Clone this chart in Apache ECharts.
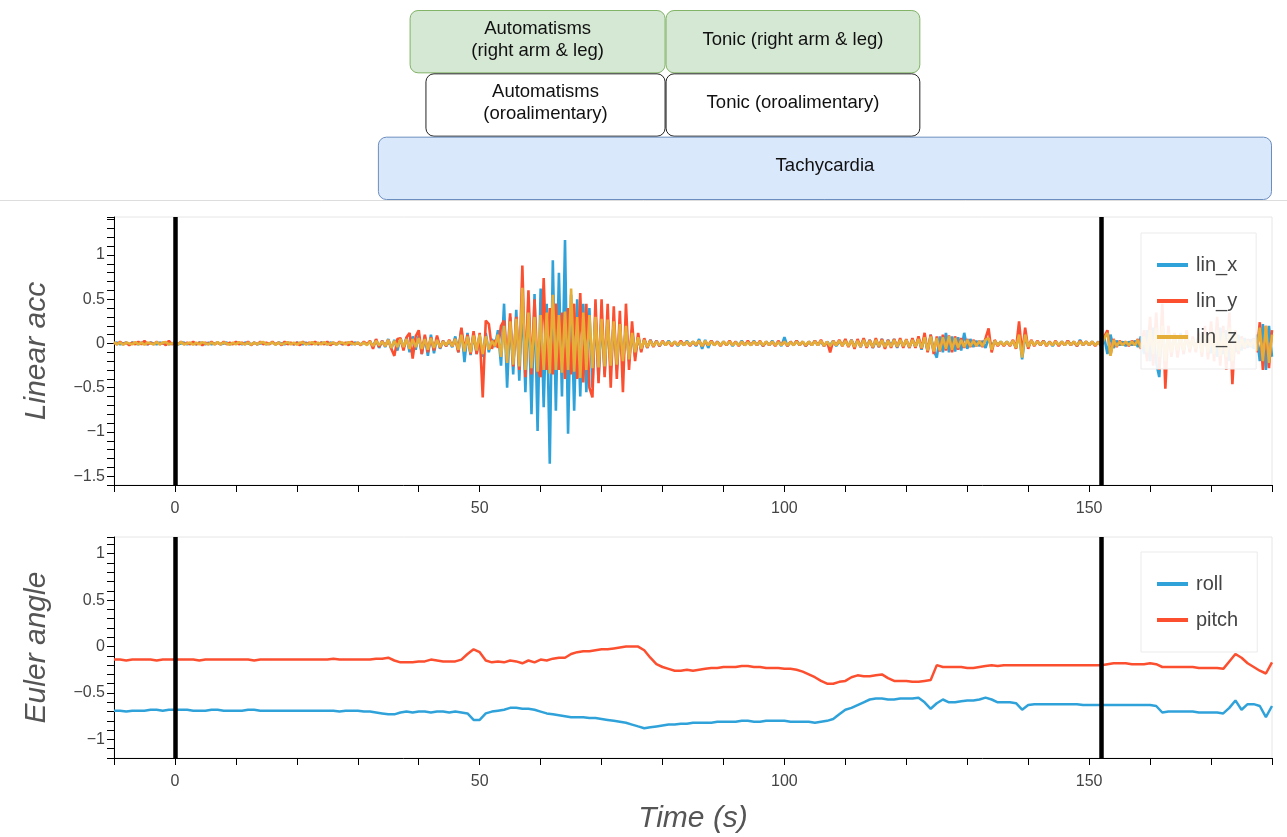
<!DOCTYPE html>
<html lang="en">
<head>
<meta charset="UTF-8">
<title>Linear acc / Euler angle</title>
<script src="https://cdn.jsdelivr.net/npm/echarts@6/dist/echarts.min.js"></script>
<style>
  html, body { margin: 0; padding: 0; background: #fff; }
  #chart { width: 1287px; height: 837px; }
</style>
</head>
<body>
<div id="chart"></div>
<script>
// ---- data ----
// annotation boxes (time in s)
var annoLabels = ['Automatisms\n(right arm & leg)', 'Tonic (right arm & leg)',
                  'Automatisms\n(oroalimentary)', 'Tonic (oroalimentary)', 'Tachycardia'];
var annoStart = [38.5, 80.5, 41.1, 80.5, 33.3];
var annoEnd   = [80.5, 122.3, 80.5, 122.3, 180];
var annoRow   = [0, 0, 1, 1, 2];

// vertical event markers
var eventTimes = [0, 152];

// linear acceleration, one sample every 0.5 s from -10 s
var ACC_T0 = -10, ACC_DT = 0.5;
var linX = [
  0, 0.01, -0.01, 0, 0.01, -0.01, 0.01, 0, -0.01, 0.01, 0, -0.01, 0.01, 0, -0.01, 0.01, 0, 0.01, -0.01, 0,
  0.01, -0.01, 0, 0.01, -0.01, 0, 0.01, -0.01, 0.01, 0, -0.01, 0.01, -0.01, 0, 0.01, -0.01, 0, 0.01, -0.01, 0,
  0, 0.01, -0.01, 0.01, 0, -0.01, 0.01, -0.01, 0, 0.01, -0.01, 0, 0.01, -0.01, 0.01, 0, -0.01, 0.01, 0, -0.01,
  0.01, 0, -0.01, 0.01, -0.01, 0, 0.01, -0.01, 0.01, 0, -0.01, 0.01, 0, -0.01, 0.01, -0.01, 0, 0.01, -0.01, 0.01,
  0, -0.01, 0.01, -0.01, 0.02, -0.03, 0.04, -0.05, 0.03, -0.04, 0.05, -0.06, 0.04, -0.08, 0.06, -0.05, 0.07, -0.1, 0.08, -0.07,
  0.09, -0.12, 0.08, -0.14, 0.1, -0.11, 0.07, -0.06, 0.03, -0.03, 0.02, -0.04, 0.08, -0.1, 0.17, -0.21, 0.12, -0.13, 0.1, -0.12,
  0.09, -0.15, 0.12, -0.1, 0.05, -0.04, 0.15, -0.25, 0.45, -0.5, 0.3, -0.35, 0.38, -0.42, 0.5, -0.55, 0.48, -0.8, 0.56, -0.99,
  0.62, -0.72, 0.45, -1.36, 0.94, -0.76, 0.8, -0.6, 1.17, -1.02, 0.55, -0.76, 0.5, -0.6, 0.45, -0.55, 0.4, -0.5, 0.35, -0.42,
  0.3, -0.35, 0.28, -0.3, 0.25, -0.3, 0.22, -0.25, 0.2, -0.2, 0.15, -0.15, 0.08, -0.08, 0.05, -0.05, 0.04, -0.03, 0.03, -0.03,
  0.02, -0.02, 0.03, -0.02, 0.02, -0.03, 0.02, -0.02, 0.03, -0.02, 0.02, -0.03, 0.05, -0.06, 0.04, -0.05, 0.03, -0.02, 0.02, -0.02,
  0.02, -0.02, 0.02, -0.03, 0.02, -0.02, 0.03, -0.02, 0.02, -0.02, 0.03, -0.02, 0.02, -0.03, 0.02, -0.02, 0.03, -0.02, 0.02, -0.03,
  0.07, -0.03, 0.02, -0.02, 0.03, -0.02, 0.02, -0.03, 0.02, -0.02, 0.03, -0.02, 0.02, -0.03, 0.02, -0.02, 0.03, -0.03, 0.02, -0.02,
  0.03, -0.03, 0.04, -0.03, 0.03, -0.04, 0.05, -0.04, 0.04, -0.05, 0.03, -0.04, 0.05, -0.04, 0.04, -0.03, 0.05, -0.05, 0.04, -0.03,
  0.04, -0.05, 0.05, -0.04, 0.06, -0.07, 0.08, -0.09, 0.1, -0.08, -0.16, 0.08, -0.1, 0.12, -0.1, 0.08, -0.09, 0.07, -0.08, 0.12,
  -0.06, 0.05, -0.04, 0.03, -0.03, 0.03, -0.05, 0.06, -0.04, 0.03, -0.02, 0.02, -0.02, 0.02, -0.02, 0.03, -0.05, 0.12, -0.18, 0.08,
  -0.04, 0.03, -0.02, 0.02, -0.02, 0.03, -0.02, 0.02, -0.03, 0.02, -0.02, 0.02, -0.02, 0.03, -0.02, 0.02, -0.03, 0.04, -0.02, 0.02,
  -0.02, 0.02, -0.02, 0.02, -0.03, 0.06, -0.12, 0.1, -0.05, 0.03, -0.02, 0.02, -0.03, 0.02, -0.02, 0.03, -0.04, 0.08, -0.12, 0.15,
  -0.2, 0.18, -0.22, -0.38, 0.25, -0.2, 0.15, -0.12, 0.1, -0.1, 0.12, -0.12, 0.1, -0.08, 0.06, -0.05, 0.08, -0.1, 0.12, -0.1,
  -0.1, 0.12, -0.15, 0.18, -0.12, 0.15, -0.2, 0.12, -0.1, 0.1, -0.08, 0.06, -0.05, 0.05, -0.06, 0.1, -0.2, 0.22, -0.3, 0.2,
  -0.15
];
var linY = [
  0.01, -0.01, 0.02, -0.01, 0.01, -0.02, 0.01, -0.01, 0.02, -0.01, 0.03, -0.01, 0.01, -0.01, 0.02, -0.01, 0.01, -0.02, 0.03, -0.01,
  0.01, -0.01, 0.02, -0.01, 0.01, -0.01, 0.02, -0.01, 0.01, -0.02, 0.01, -0.01, 0.02, -0.01, 0.01, -0.01, 0.02, -0.01, 0.01, -0.01,
  0.02, -0.01, 0.01, -0.01, 0.02, -0.02, 0.01, -0.01, 0.02, -0.01, 0.01, -0.01, 0.02, -0.01, 0.01, -0.02, 0.02, -0.01, 0.01, -0.01,
  0.01, -0.02, 0.02, -0.01, 0.01, -0.01, 0.02, -0.01, 0.01, -0.01, 0.02, -0.02, 0.01, -0.01, 0.02, -0.01, 0.01, -0.02, 0.02, -0.01,
  0.01, -0.02, 0.02, -0.01, 0.03, -0.06, 0.05, -0.04, 0.03, -0.03, 0.04, -0.06, -0.14, 0.05, 0.06, -0.08, 0.07, 0.12, -0.17, 0.08,
  0.15, -0.12, 0.1, -0.1, 0.07, -0.08, 0.09, -0.05, 0.03, -0.03, 0.04, -0.03, 0.05, -0.1, 0.18, -0.08, 0.1, -0.12, 0.14, -0.12,
  0.12, -0.61, 0.26, 0.22, -0.06, 0.04, -0.05, 0.2, 0.26, -0.2, 0.34, -0.26, 0.3, -0.3, 0.88, -0.38, 0.6, -0.35, 0.5, -0.3,
  -0.38, 0.74, -0.3, 0.4, -0.35, 0.45, -0.3, 0.35, -0.4, 0.4, -0.35, 0.45, -0.4, 0.57, -0.44, 0.45, -0.5, -0.61, 0.5, -0.45,
  0.5, -0.38, 0.45, -0.5, 0.42, -0.4, 0.37, -0.55, 0.45, -0.3, 0.25, -0.2, 0.12, -0.1, 0.06, -0.05, 0.04, -0.04, 0.03, -0.03,
  0.03, -0.02, 0.02, -0.03, 0.02, -0.02, 0.03, -0.02, 0.02, -0.03, 0.02, -0.02, 0.03, -0.03, 0.02, -0.02, 0.03, -0.02, 0.02, -0.03,
  0.02, -0.02, 0.03, -0.02, 0.02, -0.03, 0.02, -0.02, 0.03, -0.02, 0.02, -0.02, 0.03, -0.03, 0.02, -0.02, 0.02, -0.03, 0.03, -0.02,
  0.02, -0.03, 0.02, -0.02, 0.03, -0.02, 0.02, -0.03, 0.02, -0.02, 0.03, -0.02, 0.04, -0.03, 0.02, -0.1, 0.03, -0.02, 0.04, -0.03,
  0.05, -0.04, 0.04, -0.06, 0.05, -0.04, 0.06, -0.05, 0.04, -0.05, 0.06, -0.04, 0.05, -0.06, 0.04, -0.05, 0.05, -0.04, 0.06, -0.05,
  0.05, -0.05, 0.06, -0.05, 0.08, -0.06, 0.12, -0.1, 0.1, -0.12, 0.08, -0.09, 0.1, -0.08, 0.09, -0.1, 0.08, -0.07, 0.06, -0.05,
  0.05, -0.04, 0.04, -0.03, 0.03, -0.04, 0.06, 0.17, -0.1, 0.04, -0.03, 0.02, -0.03, 0.02, -0.03, 0.04, -0.06, 0.25, -0.12, 0.18,
  -0.06, 0.04, -0.03, 0.03, -0.02, 0.03, -0.03, 0.02, -0.02, 0.03, -0.03, 0.02, -0.02, 0.03, -0.02, 0.02, -0.03, 0.03, -0.02, 0.02,
  -0.02, 0.02, -0.03, 0.02, -0.03, 0.08, 0.15, -0.13, 0.05, -0.04, 0.03, -0.02, 0.02, -0.03, 0.03, -0.02, 0.05, -0.06, 0.15, -0.2,
  0.3, -0.25, 0.35, -0.3, 0.45, -0.51, 0.2, -0.15, 0.12, -0.16, 0.1, -0.12, 0.15, -0.1, 0.08, -0.1, 0.12, -0.15, 0.2, -0.18,
  0.25, -0.2, 0.3, -0.25, 0.2, -0.3, 0.35, -0.46, 0.15, -0.12, 0.08, -0.06, 0.05, -0.04, 0.06, -0.1, 0.24, -0.3, 0.2, -0.28,
  0.15
];
var linZ = [
  0.015, -0.01, 0.01, -0.015, 0.01, 0, -0.01, 0.015, -0.01, 0.01, -0.015, 0.01, 0, -0.01, 0.015, -0.01, 0.01, 0.015, -0.01, 0,
  0.01, -0.01, 0.015, -0.01, 0, 0.01, -0.015, 0.01, -0.01, 0.015, 0, -0.01, 0.01, -0.01, 0.015, -0.01, 0.01, 0, -0.015, 0.01,
  -0.01, 0.015, 0, -0.01, 0.01, -0.015, 0.01, -0.01, 0.01, 0.015, -0.01, 0, 0.01, -0.015, 0.01, -0.01, 0, 0.015, -0.01, 0.01,
  -0.015, 0.01, 0.01, -0.01, 0, 0.015, -0.01, 0.01, -0.01, 0.015, -0.01, 0, 0.01, -0.015, 0.01, 0.01, -0.01, 0.015, 0, -0.01,
  0.01, -0.015, 0.01, -0.02, 0.02, -0.03, 0.03, -0.02, 0.02, -0.03, 0.04, -0.05, 0.03, -0.04, 0.05, -0.04, 0.05, -0.06, 0.05, -0.04,
  0.06, -0.06, 0.05, -0.07, 0.06, -0.05, 0.04, -0.04, 0.02, -0.02, 0.03, -0.03, 0.05, -0.07, 0.1, -0.09, 0.08, -0.1, 0.09, -0.08,
  0.1, -0.12, 0.08, -0.07, 0.03, -0.03, 0.1, -0.15, 0.2, -0.22, 0.25, -0.24, 0.28, -0.26, 0.63, -0.3, 0.35, -0.28, 0.3, -0.32,
  0.32, -0.3, 0.35, -0.34, 0.55, -0.3, 0.32, -0.33, 0.36, -0.3, 0.62, -0.32, 0.3, -0.39, 0.35, -0.3, 0.32, -0.28, 0.3, -0.27,
  0.28, -0.26, 0.27, -0.25, 0.25, -0.24, 0.22, -0.2, 0.2, -0.18, 0.12, -0.1, 0.07, -0.06, 0.04, -0.04, 0.03, -0.03, 0.02, -0.02,
  0.02, -0.02, 0.02, -0.015, 0.02, -0.02, 0.015, -0.02, 0.02, -0.02, 0.02, -0.015, 0.03, -0.03, 0.03, -0.02, 0.02, -0.02, 0.015, -0.02,
  0.02, -0.015, 0.02, -0.02, 0.015, -0.02, 0.02, -0.02, 0.015, -0.02, 0.02, -0.015, 0.02, -0.02, 0.02, -0.015, 0.02, -0.02, 0.015, -0.02,
  0.02, -0.02, 0.015, -0.02, 0.02, -0.015, 0.02, -0.02, 0.02, -0.02, 0.025, -0.02, 0.03, -0.025, 0.02, -0.03, 0.025, -0.02, 0.03, -0.025,
  0.03, -0.03, 0.035, -0.04, 0.03, -0.035, 0.04, -0.035, 0.03, -0.04, 0.04, -0.03, 0.035, -0.04, 0.03, -0.035, 0.04, -0.035, 0.04, -0.03,
  0.04, -0.04, 0.04, -0.035, 0.05, -0.05, 0.07, -0.08, 0.08, -0.09, 0.06, -0.08, 0.07, -0.06, 0.08, -0.07, 0.06, -0.05, 0.04, -0.04,
  0.04, -0.03, 0.03, -0.025, 0.025, -0.03, 0.04, 0.06, -0.07, 0.03, -0.02, 0.02, -0.02, 0.02, -0.02, 0.03, -0.05, 0.1, -0.16, 0.1,
  -0.04, 0.03, -0.02, 0.02, -0.015, 0.02, -0.02, 0.015, -0.02, 0.02, -0.015, 0.02, -0.02, 0.02, -0.015, 0.02, -0.02, 0.02, -0.015, 0.02,
  -0.015, 0.02, -0.02, 0.015, -0.02, 0.06, 0.12, -0.14, 0.04, -0.03, 0.02, -0.02, 0.02, -0.02, 0.02, -0.02, 0.04, -0.05, 0.08, -0.1,
  0.15, -0.12, 0.18, -0.15, 0.2, -0.2, 0.12, -0.1, 0.08, -0.08, 0.07, -0.08, 0.08, -0.06, 0.05, -0.06, 0.08, -0.1, 0.1, -0.1,
  0.12, -0.12, 0.15, -0.14, 0.12, -0.15, 0.18, -0.2, 0.1, -0.08, 0.05, -0.04, 0.03, -0.03, 0.04, -0.08, 0.18, -0.2, 0.2, -0.22,
  0.1
];

// euler angles, one sample every 1 s from -10 s
var EUL_T0 = -10, EUL_DT = 1;
var roll = [
  -0.69, -0.69, -0.70, -0.69, -0.69, -0.69, -0.68, -0.68, -0.69, -0.68,
  -0.68, -0.68, -0.68, -0.69, -0.69, -0.69, -0.68, -0.68, -0.69, -0.69,
  -0.69, -0.69, -0.68, -0.68, -0.69, -0.69, -0.69, -0.69, -0.69, -0.69,
  -0.69, -0.69, -0.69, -0.69, -0.69, -0.69, -0.69, -0.70, -0.69, -0.69,
  -0.69, -0.70, -0.70, -0.71, -0.72, -0.73, -0.73, -0.71, -0.70, -0.71,
  -0.70, -0.70, -0.71, -0.70, -0.70, -0.71, -0.70, -0.71, -0.72, -0.79,
  -0.79, -0.72, -0.70, -0.69, -0.68, -0.66, -0.66, -0.67, -0.67, -0.68,
  -0.70, -0.72, -0.73, -0.74, -0.75, -0.76, -0.76, -0.76, -0.77, -0.77,
  -0.78, -0.79, -0.80, -0.81, -0.82, -0.84, -0.86, -0.88, -0.87, -0.86,
  -0.85, -0.84, -0.84, -0.83, -0.83, -0.82, -0.82, -0.82, -0.82, -0.81,
  -0.81, -0.81, -0.81, -0.80, -0.80, -0.81, -0.81, -0.80, -0.80, -0.80,
  -0.80, -0.81, -0.81, -0.81, -0.81, -0.82, -0.81, -0.80, -0.78, -0.73,
  -0.68, -0.66, -0.63, -0.60, -0.57, -0.56, -0.56, -0.57, -0.57, -0.56,
  -0.56, -0.56, -0.55, -0.60, -0.67, -0.61, -0.57, -0.60, -0.60, -0.59,
  -0.58, -0.58, -0.57, -0.55, -0.57, -0.60, -0.60, -0.60, -0.61, -0.68,
  -0.63, -0.62, -0.62, -0.62, -0.62, -0.62, -0.62, -0.62, -0.62, -0.63,
  -0.63, -0.63, -0.63, -0.63, -0.63, -0.63, -0.63, -0.63, -0.63, -0.63,
  -0.63, -0.64, -0.71, -0.70, -0.70, -0.70, -0.70, -0.70, -0.71, -0.71,
  -0.71, -0.71, -0.72, -0.66, -0.58, -0.68, -0.62, -0.62, -0.64, -0.76,
  -0.64
];
var pitch = [
  -0.14, -0.14, -0.15, -0.14, -0.14, -0.14, -0.14, -0.15, -0.14, -0.14,
  -0.14, -0.14, -0.14, -0.14, -0.15, -0.14, -0.14, -0.14, -0.14, -0.14,
  -0.14, -0.14, -0.14, -0.15, -0.14, -0.14, -0.14, -0.14, -0.14, -0.14,
  -0.14, -0.14, -0.14, -0.14, -0.14, -0.14, -0.13, -0.14, -0.14, -0.14,
  -0.14, -0.14, -0.14, -0.13, -0.13, -0.12, -0.15, -0.17, -0.17, -0.17,
  -0.16, -0.16, -0.14, -0.15, -0.16, -0.16, -0.16, -0.14, -0.08, -0.03,
  -0.06, -0.15, -0.17, -0.16, -0.17, -0.15, -0.16, -0.18, -0.15, -0.17,
  -0.14, -0.15, -0.13, -0.12, -0.12, -0.08, -0.06, -0.05, -0.05, -0.04,
  -0.03, -0.03, -0.02, -0.01, 0.00, 0.00, 0.00, -0.04, -0.12, -0.19,
  -0.22, -0.24, -0.26, -0.26, -0.25, -0.26, -0.25, -0.24, -0.23, -0.23,
  -0.22, -0.22, -0.22, -0.21, -0.21, -0.22, -0.22, -0.23, -0.23, -0.23,
  -0.24, -0.24, -0.25, -0.27, -0.30, -0.33, -0.37, -0.40, -0.40, -0.38,
  -0.37, -0.33, -0.31, -0.32, -0.32, -0.31, -0.30, -0.34, -0.37, -0.37,
  -0.37, -0.38, -0.38, -0.37, -0.36, -0.20, -0.22, -0.22, -0.22, -0.22,
  -0.23, -0.23, -0.22, -0.21, -0.20, -0.21, -0.20, -0.20, -0.20, -0.20,
  -0.20, -0.20, -0.20, -0.20, -0.20, -0.20, -0.20, -0.20, -0.20, -0.20,
  -0.20, -0.20, -0.20, -0.19, -0.18, -0.18, -0.18, -0.19, -0.19, -0.19,
  -0.18, -0.19, -0.22, -0.22, -0.22, -0.22, -0.22, -0.22, -0.23, -0.23,
  -0.23, -0.23, -0.24, -0.16, -0.08, -0.12, -0.18, -0.22, -0.26, -0.29,
  -0.17
];

// ---- styling ----
var FONT = "'Liberation Sans', Arial, sans-serif";
var C_BLUE = '#30a2da', C_RED = '#fc4f30', C_YELLOW = '#e5ae38';
var rowStyle = [
  { fill: '#d5e8d4', stroke: '#82b366' },
  { fill: '#ffffff', stroke: '#222222' },
  { fill: '#dae8fc', stroke: '#6c8ebf' }
];

function withTime(values, t0, dt) {
  return values.map(function (v, i) { return [t0 + i * dt, v]; });
}

function halfLabel(v) {
  var k = Math.round(v * 2);
  if (Math.abs(v * 2 - k) > 1e-6) return '';
  return String(k / 2).replace('-', '\u2212');
}

var titleStyle = { fontSize: 30, fontStyle: 'italic', color: '#555', fontFamily: FONT };

function timeAxis(gridIndex, title) {
  return {
    type: 'value', gridIndex: gridIndex, min: -10, max: 180, interval: 10,
    axisLine: { show: true, onZero: false, lineStyle: { color: '#000', width: 1 } },
    axisTick: { show: true, length: 7, lineStyle: { color: '#000', width: 1 } },
    axisLabel: {
      color: '#444', fontSize: 16, fontFamily: FONT, margin: 16,
      formatter: function (v) { return Math.abs(v % 50) < 1e-6 ? String(v) : ''; }
    },
    splitLine: { show: false },
    name: title || '', nameLocation: 'middle', nameGap: 46,
    nameTextStyle: titleStyle
  };
}

function valueAxis(gridIndex, min, max, title) {
  return {
    type: 'value', gridIndex: gridIndex, min: min, max: max, interval: 0.1,
    axisLine: { show: true, onZero: false, lineStyle: { color: '#000', width: 1 } },
    axisTick: { show: true, length: 7, lineStyle: { color: '#000', width: 1 } },
    axisLabel: { color: '#444', fontSize: 16, fontFamily: FONT, margin: 9, formatter: halfLabel },
    splitLine: { show: false },
    name: title, nameLocation: 'middle', nameGap: 62,
    nameTextStyle: titleStyle
  };
}

function lineSeries(name, color, data, xi, width) {
  return {
    name: name, type: 'line', xAxisIndex: xi, yAxisIndex: xi,
    data: data, symbol: 'none', showSymbol: false, sampling: false,
    lineStyle: { color: color, width: width }, itemStyle: { color: color },
    emphasis: { disabled: true }, animation: false
  };
}

function eventMarks() {
  return {
    silent: true, symbol: 'none', animation: false,
    label: { show: false },
    lineStyle: { color: '#000', width: 4.5, type: 'solid', opacity: 1 },
    emphasis: { disabled: true },
    data: eventTimes.map(function (t) { return { xAxis: t }; })
  };
}

function legendAt(top, names) {
  return {
    data: names, orient: 'vertical', left: 1141, top: top,
    padding: [22, 19, 22, 16], itemWidth: 31, itemHeight: 4, itemGap: 16,
    icon: 'rect',
    backgroundColor: 'rgba(255,255,255,0.9)', borderColor: '#ebebeb', borderWidth: 1,
    textStyle: { color: '#444', fontSize: 20, fontFamily: FONT, padding: [0, 0, 0, 3] },
    selectedMode: false
  };
}

function renderBox(params, api) {
  var row = api.value(2);
  var p0 = api.coord([api.value(0), row]);
  var p1 = api.coord([api.value(1), row + 1]);
  var st = rowStyle[row];
  return {
    type: 'group',
    children: [{
      type: 'rect',
      shape: { x: p0[0] + 0.5, y: p0[1] + 0.5, width: p1[0] - p0[0] - 1, height: p1[1] - p0[1] - 1, r: 8 },
      style: { fill: st.fill, stroke: st.stroke, lineWidth: 1 }
    }, {
      type: 'text',
      style: {
        x: (p0[0] + p1[0]) / 2, y: (p0[1] + p1[1]) / 2 - 2,
        text: annoLabels[params.dataIndex],
        align: 'center', verticalAlign: 'middle',
        fill: '#111', fontSize: 18.5, fontFamily: FONT, lineHeight: 22
      }
    }]
  };
}

var chart = echarts.init(document.getElementById('chart'), null, { renderer: 'canvas' });

var zSeries = lineSeries('lin_z', C_YELLOW, withTime(linZ, ACC_T0, ACC_DT), 1, 2.6);
zSeries.markLine = eventMarks();
var pitchSeries = lineSeries('pitch', C_RED, withTime(pitch, EUL_T0, EUL_DT), 2, 2.5);
pitchSeries.markLine = eventMarks();

chart.setOption({
  animation: false,
  backgroundColor: '#fff',
  textStyle: { fontFamily: FONT },
  graphic: [{
    type: 'line', z: -10, silent: true,
    shape: { x1: 0, y1: 200.5, x2: 1287, y2: 200.5 },
    style: { stroke: '#dddddd', lineWidth: 1 }
  }],
  grid: [
    { left: 114, right: 15, top: 10, height: 190, outerBoundsMode: 'none', containLabel: false },
    { left: 114, right: 15, top: 217, height: 268, show: true, borderColor: '#e6e6e6', borderWidth: 1,
      backgroundColor: 'transparent', outerBoundsMode: 'none', containLabel: false },
    { left: 114, right: 15, top: 537, height: 221, show: true, borderColor: '#e6e6e6', borderWidth: 1,
      backgroundColor: 'transparent', outerBoundsMode: 'none', containLabel: false }
  ],
  xAxis: [
    { type: 'value', gridIndex: 0, min: -10, max: 180, show: false },
    timeAxis(1),
    timeAxis(2, 'Time (s)')
  ],
  yAxis: [
    { type: 'value', gridIndex: 0, min: 0, max: 3, inverse: true, show: false },
    valueAxis(1, -1.6, 1.43, 'Linear acc'),
    valueAxis(2, -1.2, 1.18, 'Euler angle')
  ],
  legend: [
    legendAt(233, ['lin_x', 'lin_y', 'lin_z']),
    legendAt(552, ['roll', 'pitch'])
  ],
  series: [
    {
      type: 'custom', xAxisIndex: 0, yAxisIndex: 0, clip: false, silent: true,
      renderItem: renderBox,
      data: annoStart.map(function (s, i) { return [s, annoEnd[i], annoRow[i]]; })
    },
    lineSeries('lin_x', C_BLUE, withTime(linX, ACC_T0, ACC_DT), 1, 2.6),
    lineSeries('lin_y', C_RED, withTime(linY, ACC_T0, ACC_DT), 1, 2.6),
    zSeries,
    lineSeries('roll', C_BLUE, withTime(roll, EUL_T0, EUL_DT), 2, 2.5),
    pitchSeries
  ]
});
</script>
</body>
</html>
